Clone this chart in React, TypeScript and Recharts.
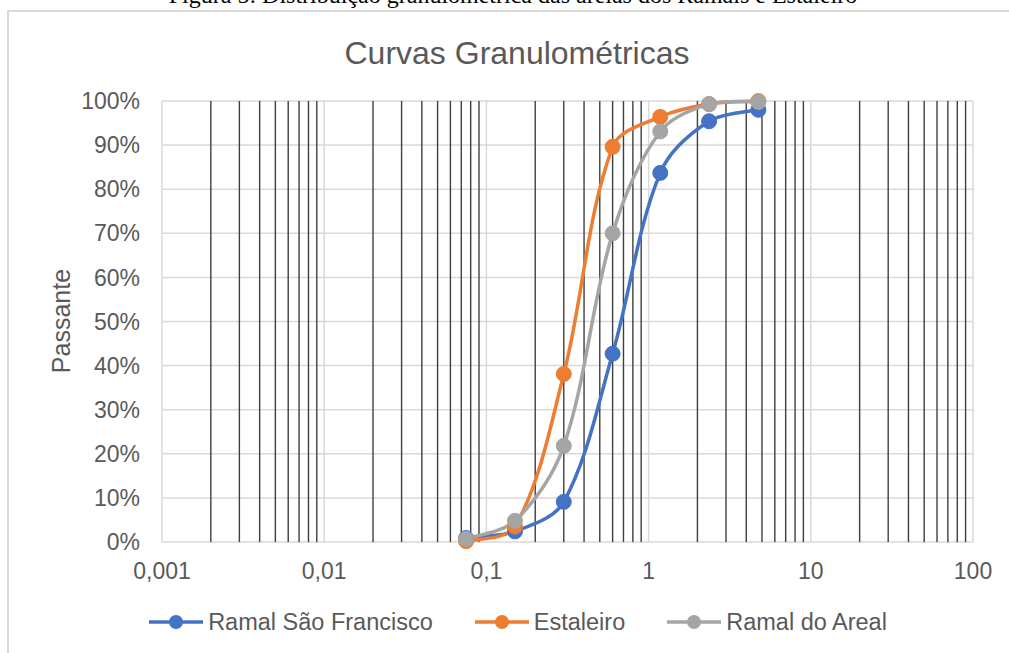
import React from 'react';
import {
  CartesianGrid,
  Legend,
  Line,
  LineChart,
  ReferenceLine,
  XAxis,
  YAxis,
} from 'recharts';

// sieve openings (mm) and % passing per sample
const sieves = [0.075, 0.15, 0.3, 0.6, 1.18, 2.36, 4.75];
const ramalSaoFrancisco = [0.9, 2.4, 9.1, 42.7, 83.7, 95.4, 98.0];
const estaleiro = [0.2, 3.5, 38.1, 89.6, 96.4, 99.3, 100];
const ramalDoAreal = [0.7, 4.8, 21.8, 70.0, 93.1, 99.3, 99.8];

const seriesNames = ['Ramal São Francisco', 'Estaleiro', 'Ramal do Areal'];
const seriesColors = ['#4472C4', '#ED7D31', '#A5A5A5'];

const decadeTicks = [0.001, 0.01, 0.1, 1, 10, 100];
const decadeLabels = ['0,001', '0,01', '0,1', '1', '10', '100'];
const minorMultipliers = [2, 3, 4, 5, 6, 7, 8, 9];
const yTicks = [0, 10, 20, 30, 40, 50, 60, 70, 80, 90, 100];

const minorTicks = decadeTicks
  .slice(0, -1)
  .flatMap((d) => minorMultipliers.map((m) => d * m));

const data = sieves.map((x, i) => ({
  x,
  s0: ramalSaoFrancisco[i],
  s1: estaleiro[i],
  s2: ramalDoAreal[i],
}));

const FONT = '"Liberation Sans", Arial, sans-serif';
const TEXT = '#595959';

// Excel-like smoothed line: bezier with tangent arms scaled by neighbouring segment lengths
function excelCurve(context: any) {
  let pts: number[][] = [];
  const dist = (a: number[], b: number[]) => Math.hypot(b[0] - a[0], b[1] - a[1]);
  return {
    areaStart() {},
    areaEnd() {},
    lineStart() {
      pts = [];
    },
    point(x: number, y: number) {
      pts.push([+x, +y]);
    },
    lineEnd() {
      const n = pts.length;
      if (!n) return;
      context.moveTo(pts[0][0], pts[0][1]);
      // arms[i] = [outgoing, incoming] control offsets at point i
      const outArm: number[][] = [];
      const inArm: number[][] = [];
      for (let i = 0; i < n; i++) {
        const prev = pts[Math.max(i - 1, 0)];
        const next = pts[Math.min(i + 1, n - 1)];
        const tx = next[0] - prev[0];
        const ty = next[1] - prev[1];
        const dPrev = dist(prev, pts[i]);
        const dNext = dist(pts[i], next);
        const sum = dPrev + dNext || 1;
        const kOut = i === 0 ? 1 / 6 : dNext / sum / 3;
        const kIn = i === n - 1 ? 1 / 6 : dPrev / sum / 3;
        outArm.push([tx * kOut, ty * kOut]);
        inArm.push([tx * kIn, ty * kIn]);
      }
      for (let i = 0; i < n - 1; i++) {
        const p1 = pts[i];
        const p2 = pts[i + 1];
        context.bezierCurveTo(
          p1[0] + outArm[i][0],
          p1[1] + outArm[i][1],
          p2[0] - inArm[i + 1][0],
          p2[1] - inArm[i + 1][1],
          p2[0],
          p2[1],
        );
      }
    },
  };
}

function renderLegend() {
  return (
    <div
      style={{
        display: 'flex',
        justifyContent: 'center',
        alignItems: 'center',
        height: 26,
        gap: 42,
        fontFamily: FONT,
        fontSize: 23.5,
        color: TEXT,
      }}
    >
      {seriesNames.map((name, i) => (
        <div key={name} style={{ display: 'flex', alignItems: 'center' }}>
          <svg width={54} height={16}>
            <line x1={0} y1={8} x2={54} y2={8} stroke={seriesColors[i]} strokeWidth={3.5} />
            <circle cx={27} cy={8} r={7} fill={seriesColors[i]} />
          </svg>
          <span style={{ marginLeft: 5 }}>{name}</span>
        </div>
      ))}
    </div>
  );
}

export default function App() {
  return (
    <div
      style={{
        position: 'absolute',
        left: 0,
        top: 0,
        width: 1009,
        height: 653,
        overflow: 'hidden',
        background: '#fff',
      }}
    >
      <div
        style={{
          position: 'absolute',
          left: 0,
          width: 1026,
          top: -17,
          textAlign: 'center',
          fontFamily: '"Liberation Serif", "Times New Roman", serif',
          fontSize: 24,
          lineHeight: '24px',
          color: '#000',
          whiteSpace: 'nowrap',
        }}
      >
        Figura 5: Distribuição granulométrica das areias dos Ramais e Estaleiro
      </div>
      <div
        style={{
          position: 'absolute',
          left: 7,
          top: 10,
          width: 1100,
          height: 700,
          borderLeft: '2px solid #d9d9d9',
          borderTop: '2px solid #d9d9d9',
        }}
      />
      <div
        style={{
          position: 'absolute',
          left: 0,
          width: 1034,
          top: 35,
          textAlign: 'center',
          fontFamily: FONT,
          fontSize: 32,
          color: TEXT,
          whiteSpace: 'nowrap',
        }}
      >
        Curvas Granulométricas
      </div>
      <div
        style={{
          position: 'absolute',
          left: 61,
          top: 321,
          transform: 'translate(-50%, -50%) rotate(-90deg)',
          fontFamily: FONT,
          fontSize: 25,
          color: TEXT,
          whiteSpace: 'nowrap',
        }}
      >
        Passante
      </div>
      <div style={{ position: 'absolute', left: 0, top: 0 }}>
        <LineChart
          width={1009}
          height={653}
          data={data}
          margin={{ top: 101, right: 36, left: 102, bottom: 18 }}
        >
          <CartesianGrid stroke="#d9d9d9" strokeWidth={1.5} />
          {minorTicks.map((v) => (
            <ReferenceLine key={v} x={v} stroke="#3f3f3f" strokeWidth={1.4} />
          ))}
          <XAxis
            dataKey="x"
            type="number"
            scale="log"
            domain={[0.001, 100]}
            allowDataOverflow
            ticks={decadeTicks}
            tickFormatter={(v: number) => decadeLabels[decadeTicks.indexOf(v)] ?? String(v)}
            axisLine={false}
            tickLine={false}
            tickMargin={15}
            height={67}
            tick={{ fill: TEXT, fontSize: 23, fontFamily: FONT }}
          />
          <YAxis
            type="number"
            domain={[0, 100]}
            ticks={yTicks}
            tickFormatter={(v: number) => `${v}%`}
            axisLine={false}
            tickLine={false}
            tickMargin={16}
            width={60}
            tick={{ fill: TEXT, fontSize: 23, fontFamily: FONT }}
          />
          <Legend
            verticalAlign="bottom"
            content={renderLegend}
            wrapperStyle={{ left: 0, width: 1036 }}
          />
          {seriesNames.map((name, i) => (
            <Line
              key={name}
              name={name}
              dataKey={`s${i}`}
              type={excelCurve as any}
              stroke={seriesColors[i]}
              strokeWidth={3.5}
              dot={{ r: 7.5, fill: seriesColors[i], stroke: seriesColors[i], strokeWidth: 1 }}
              activeDot={false}
              isAnimationActive={false}
            />
          ))}
        </LineChart>
      </div>
    </div>
  );
}
